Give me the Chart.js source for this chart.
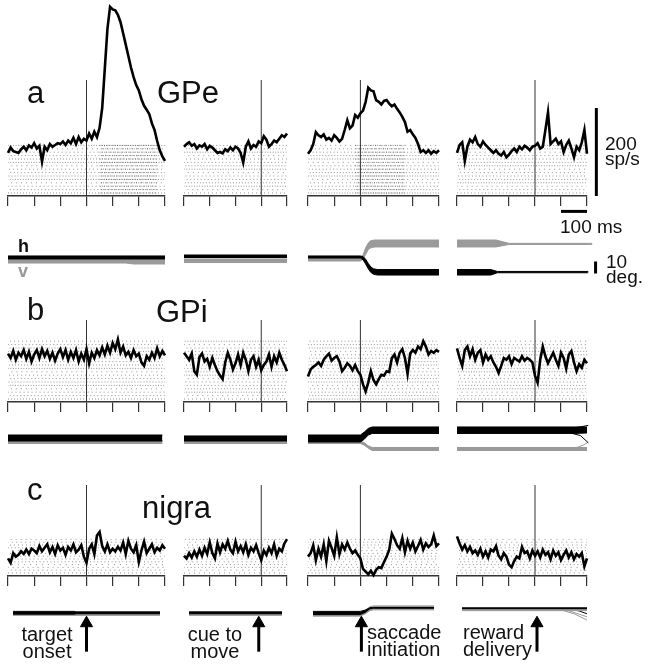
<!DOCTYPE html>
<html>
<head>
<meta charset="utf-8">
<script src="https://cdn.jsdelivr.net/npm/chart.js@4.4.0/dist/chart.umd.min.js"></script>
<style>
  body { margin: 0; background: #fff; }
  #fig { position: relative; width: 651px; height: 666px; overflow: hidden; font-family: "Liberation Sans", Arial, sans-serif; color: #111; }
  #fig canvas { position: absolute; }
  .lbl { position: absolute; white-space: nowrap; }
  .big { font-size: 31px; line-height: 30px; }
  .scale { font-size: 19px; line-height: 15px; }
  .evt { font-size: 20px; line-height: 17px; }
</style>
</head>
<body>
<div id="fig"></div>
<script>
// time window of each column (ms, relative to the event), ticks every 100 ms
const colWindows = [[-300, 300], [-300, 100], [-200, 300], [-300, 200]];
const events = ["target onset", "cue to move", "saccade initiation", "reward delivery"];
const areas = ["GPe", "GPi", "nigra"];

// firing rate (sp/s), 10 ms bins over each column window
const psthA1 = [98,110,102,100,98,106,112,104,115,110, 120,108,114,78,112,104,118,112,116,120,
  118,124,116,126,120,132,118,134,122,130, 126,142,130,146,134,155,200,290,380,430,
  424,422,412,395,370,344,318,292,270,252, 240,220,205,196,186,165,150,125,104,90, 80];
const psthA2 = [112,118,122,114,118,108,115,112,118,106, 114,110,104,98,100,97,106,102,110,104,
  112,108,98,76,112,124,108,116,112,124, 120,136,128,112,118,126,122,130,138,134, 142];
const psthA3 = [96,104,118,145,138,134,140,128,132,126, 138,132,124,130,150,172,154,160,184,178,
  188,194,214,246,240,238,218,214,208,216, 218,210,204,208,198,190,180,168,146,150,
  140,132,118,100,104,98,104,96,102,98, 104];
const psthA4 = [98,116,122,80,112,128,122,134,118,112, 124,116,110,104,98,104,96,92,100,88,
  94,102,108,100,112,106,114,110,104,112, 114,120,108,112,150,190,118,124,130,118,
  124,100,116,126,108,88,112,104,122,150, 96];

const psthB1 = [110,100,116,96,112,104,118,98,114,92, 108,118,100,120,104,116,98,112,94,110,
  120,102,118,96,114,100,118,92,110,96, 120,88,112,100,118,106,124,108,128,112,
  134,120,142,112,126,106,114,100,118,104, 110,90,82,104,96,112,100,122,104,116, 106];
const psthB2 = [112,104,96,110,70,62,102,110,92,98, 80,100,84,70,60,52,90,112,96,74,
  88,108,84,112,96,70,96,104,80,96, 72,84,92,108,80,104,90,112,96,84, 70];
const psthB3 = [58,74,80,84,90,82,96,104,110,94, 100,104,92,70,78,88,82,72,84,70,
  62,40,24,44,70,50,40,52,62,60, 70,68,100,108,90,112,120,100,64,110,
  118,112,126,120,138,126,108,116,112,118, 114];
const psthB4 = [122,100,82,118,126,104,120,96,112,118, 90,108,96,104,90,80,66,82,100,96,
  104,86,100,96,92,104,94,100,96,90, 60,44,96,126,104,88,100,112,96,82,
  112,100,76,108,116,90,70,86,78,96, 88];

const psthC1 = [40,30,52,44,48,56,50,60,50,62, 58,52,68,56,64,72,54,66,50,70,
  58,64,48,66,58,72,54,60,70,44, 30,62,72,50,92,100,68,56,72,54,
  62,56,66,58,76,50,80,62,54,70, 32,58,78,52,62,72,54,64,58,70, 62];
const psthC2 = [46,40,52,42,56,44,60,46,64,50, 76,52,40,74,54,72,62,80,60,52,
  78,56,68,54,72,48,64,56,70,52, 36,58,48,64,52,72,46,62,56,74, 84];
const psthC3 = [44,52,70,36,62,44,72,34,80,64, 46,88,50,72,60,76,62,52,58,48,
  40,16,10,4,12,2,14,20,18,32, 44,60,96,84,70,62,86,54,80,62,
  76,56,68,82,60,74,66,72,92,68, 74];
const psthC4 = [90,74,60,70,56,66,52,58,48,62, 44,56,42,60,56,68,46,38,52,44,
  26,20,34,44,40,66,52,56,40,58, 46,56,42,60,48,54,38,58,46,54,
  36,48,58,42,54,38,50,44,52,22, 40];

// raster: trials per row, and ms spans where spikes are dense
const rasterTrials = [15, 18, 13];
const rasterBurstA1 = [50, 270];
const rasterBurstA3 = [-20, 170];

// eye position bundles: [ms, lower deg, upper deg]; h black, v grey
const eyeA1h = [[-300, -0.8, 1.7], [300, -0.8, 1.7]];
const eyeA1v = [[-300, -4.2, -0.8], [150, -4.2, -0.8], [180, -5, -0.8], [300, -5, -0.8]];
const eyeA2h = [[-300, 0.4, 2.5], [100, 0.4, 2.5]];
const eyeA2v = [[-300, -3.8, -0.8], [100, -3.8, -0.8]];
const eyeA3h = [[-200, 0, 1.7], [0, 0, 1.7], [10, -1.5, 1.2], [20, -5, -1], [30, -9, -4.5], [40, -12, -7.5], [50, -13.6, -9], [65, -14.2, -9.6], [300, -14.2, -9.6]];
const eyeA3v = [[-200, -2.5, 0], [0, -2.5, 0], [10, -1, 2.5], [20, 3, 8.5], [30, 7, 12.5], [40, 8.5, 14.5], [55, 9.2, 15], [300, 9.2, 15]];
const eyeA4h = [[-300, -14.2, -9.6], [-170, -14.2, -9.6], [-145, -12.3, -11.2], [205, -12.3, -11.2]];
const eyeA4v = [[-300, 9.2, 15], [-150, 9.2, 15], [-100, 11.3, 12.2], [220, 11.3, 12.2]];

const eyeB1h = [[-300, -2.5, 2.5], [290, -2.5, 2.5]];
const eyeB1v = [[-300, -4.6, -2.5], [290, -4.6, -2.5]];
const eyeB2h = [[-300, -2.5, 1.7], [100, -2.5, 1.7]];
const eyeB2v = [[-300, -4.6, -2.5], [100, -4.6, -2.5]];
const eyeB3h = [[-200, -3.3, 2.5], [0, -3.3, 2.5], [15, -1, 5], [30, 2.5, 8], [45, 3.8, 9.2], [300, 3.8, 9.2]];
const eyeB3v = [[-200, -4.6, -2.5], [0, -4.6, -2.5], [15, -6, -4], [30, -8.5, -6.5], [45, -10.4, -7.9], [300, -10.4, -7.9]];
const eyeB4h = [[-300, 3.8, 9.2], [150, 3.8, 9.2], [200, 4.2, 9.2]];
const eyeB4v = [[-300, -10.4, -7.9], [200, -10.4, -7.9]];
const strayB4h = [[[140, 4], [175, 2], [205, -4]], [[150, 8.5], [180, 9.5], [205, 10.5]]];
const strayB4v = [[[160, -8], [185, -6], [205, -3.5]]];

const eyeC1h = [[-300, -1.2, 1.7], [-50, -1.2, 1.7], [-40, -0.8, 1.2], [300, -0.8, 1.2]];
const eyeC1v = [[-300, -2.5, -0.8], [300, -2.5, -0.8]];
const eyeC2h = [[-300, -0.8, 1.2], [100, -0.8, 1.2]];
const eyeC2v = [[-300, -2.5, -0.8], [100, -2.5, -0.8]];
const eyeC3h = [[-200, -1.7, 1.7], [-5, -1.7, 1.7], [15, 0.5, 3], [35, 4.4, 5.6], [50, 5, 5.8], [300, 5, 5.8]];
const eyeC3v = [[-200, -3.3, -0.8], [-5, -3.3, -0.8], [15, -1, 2.5], [35, 2.5, 6.5], [50, 3.3, 7.5], [300, 3.3, 7.5]];
const eyeC4h = [[-300, 4.6, 5.4], [200, 4.6, 5.4]];
const eyeC4v = [[-300, 2.5, 5.8], [200, 2.5, 5.8]];
const strayC4h = [[[130, 4.6], [170, 2], [200, -0.8]]];
const strayC4v = [[[100, 3], [150, -1], [200, -7.5]], [[120, 3], [200, -4]]];

// scale bars: 200 sp/s, 100 ms, 10 deg
const scaleRate = 200, scaleTime = 100, scaleEye = 10;

const psth = [[psthA1, psthA2, psthA3, psthA4], [psthB1, psthB2, psthB3, psthB4], [psthC1, psthC2, psthC3, psthC4]];
const eyeH = [[eyeA1h, eyeA2h, eyeA3h, eyeA4h], [eyeB1h, eyeB2h, eyeB3h, eyeB4h], [eyeC1h, eyeC2h, eyeC3h, eyeC4h]];
const eyeV = [[eyeA1v, eyeA2v, eyeA3v, eyeA4v], [eyeB1v, eyeB2v, eyeB3v, eyeB4v], [eyeC1v, eyeC2v, eyeC3v, eyeC4v]];

// layout (px)
const colLeft = [8, 184, 308, 457];
const colRight = [165, 287, 439, 587];
const psthRows = [{ top: 0, axis: 196, evTop: 80 }, { top: 300, axis: 402, evTop: 320 }, { top: 470, axis: 576, evTop: 485 }];
const eyeRows = [{ top: 230, zero: 258, bottom: 290 }, { top: 415, zero: 438, bottom: 462 }, { top: 590, zero: 609, bottom: 666 }];
const rasterGap = [3.4, 3.4, 2.8];
const dotPatterns = [[1, 2], [1, 3], [1, 1.6], [1, 2.5], [1, 4]];
const PX_PER_SPS = 0.44;
const PX_PER_DEG = 1.2;
const PAD = 3, TICK = 10, EXTRA_BOTTOM = 12;

const fig = document.getElementById("fig");

function binTimes(win) {
  const t = [];
  for (let x = win[0]; x <= win[1]; x += 10) t.push(x);
  return t;
}

function mount(left, top, width, height) {
  const c = document.createElement("canvas");
  c.width = width;
  c.height = height;
  c.style.left = left + "px";
  c.style.top = top + "px";
  c.style.width = width + "px";
  c.style.height = height + "px";
  fig.appendChild(c);
  return c;
}

function line(data, color, width, extra) {
  return Object.assign({
    data: data, borderColor: color, backgroundColor: color, borderWidth: width,
    pointRadius: 0, tension: 0, fill: false, clip: false, spanGaps: false
  }, extra || {});
}

function baseOptions(padRight, padBottom) {
  return {
    responsive: false, animation: false, events: [],
    layout: { padding: { left: PAD, right: PAD + padRight, top: 0, bottom: padBottom } },
    plugins: { legend: { display: false }, tooltip: { enabled: false } }
  };
}

function psthChart(r, c) {
  const row = psthRows[r];
  const win = colWindows[c];
  const extraRight = c === 3 ? 62 : 0;
  const areaH = row.axis - row.top;
  const width = colRight[c] - colLeft[c] + 2 * PAD + extraRight;
  const height = areaH + TICK + EXTRA_BOTTOM;
  const canvas = mount(colLeft[c] - PAD, row.top, width, height);

  const ds = [];
  ds.push(line(binTimes(win).map((t, i) => ({ x: t, y: psth[r][c][i] })), "#000", 2.6));
  ds.push(line([{ x: 0, y: 0 }, { x: 0, y: (row.axis - row.evTop) / PX_PER_SPS }], "#333", 1));

  // raster: one dotted line per trial
  const burst = r === 0 && c === 0 ? rasterBurstA1 : (r === 0 && c === 2 ? rasterBurstA3 : null);
  for (let k = 0; k < rasterTrials[r]; k++) {
    if (burst) {
      ds.push(line([{ x: burst[0], y: k }, { x: burst[1], y: k }], "rgba(0,0,0,0.45)", 1,
        { yAxisID: "yt", borderDash: [1, 1.2], borderDashOffset: k % 2 }));
    }
    const pat = dotPatterns[(k * 3 + c) % dotPatterns.length];
    const dim = r === 2 ? [1, pat[1] + 1] : pat;
    ds.push(line([{ x: win[0], y: k }, { x: win[1], y: k }], "rgba(0,0,0,0.42)", 1,
      { yAxisID: "yt", borderDash: dim, borderDashOffset: (k * 1.7) % 3 }));
  }

  if (r === 0 && c === 3) {
    ds.push(line([{ x: 236, y: 0 }, { x: 236, y: scaleRate }], "#000", 3));
    ds.push(line([{ x: 100, y: -35 }, { x: 100 + scaleTime, y: -35 }], "#000", 3));
  }

  const gap = rasterGap[r];
  const ytMin = -3 / gap;
  new Chart(canvas, {
    type: "line",
    data: { datasets: ds },
    options: Object.assign(baseOptions(extraRight, EXTRA_BOTTOM), {
      scales: {
        x: {
          type: "linear", min: win[0], max: win[1],
          ticks: { stepSize: 100, display: false },
          grid: { drawOnChartArea: false, drawTicks: true, tickLength: TICK, color: "#333", lineWidth: 1.2 },
          border: { display: true, color: "#333", width: 1.5 }
        },
        y: { display: false, min: 0, max: areaH / PX_PER_SPS },
        yt: { display: false, min: ytMin, max: ytMin + areaH / gap }
      }
    })
  });
}

function eyeChart(r, c) {
  const row = eyeRows[r];
  const win = colWindows[c];
  const extraRight = c === 3 ? 62 : 0;
  const width = colRight[c] - colLeft[c] + 2 * PAD + extraRight;
  const height = row.bottom - row.top;
  const canvas = mount(colLeft[c] - PAD, row.top, width, height);

  const band = (arr, color) => [
    line(arr.map(p => ({ x: p[0], y: p[2] })), color, 1, { fill: "+1" }),
    line(arr.map(p => ({ x: p[0], y: p[1] })), color, 1)
  ];
  const ds = [];
  ds.push(...band(eyeH[r][c], "#000"));
  ds.push(...band(eyeV[r][c], "#9a9a9a"));
  const strays = [];
  if (r === 1 && c === 3) { strayB4h.forEach(s => strays.push([s, "#000"])); strayB4v.forEach(s => strays.push([s, "#9a9a9a"])); }
  if (r === 2 && c === 3) { strayC4h.forEach(s => strays.push([s, "#000"])); strayC4v.forEach(s => strays.push([s, "#9a9a9a"])); }
  strays.forEach(([s, col]) => ds.push(line(s.map(p => ({ x: p[0], y: p[1] })), col, 1)));

  if (r === 0 && c === 3) {
    ds.push(line([{ x: 233, y: -3 }, { x: 233, y: -3 - scaleEye }], "#000", 3));
  }
  if (r === 2) {
    // event arrow under each column
    ds.unshift(line([{ x: 0, y: -40.8 }, { x: 0, y: -10.8 }], "#000", 3, {
      pointRadius: [0, 7], pointStyle: "triangle", pointBackgroundColor: "#000",
      pointBorderColor: "#000", pointBorderWidth: 1
    }));
  }

  new Chart(canvas, {
    type: "line",
    data: { datasets: ds },
    options: Object.assign(baseOptions(extraRight, 0), {
      scales: {
        x: { type: "linear", display: false, min: win[0], max: win[1] },
        y: { display: false, min: -(row.bottom - row.zero) / PX_PER_DEG, max: (row.zero - row.top) / PX_PER_DEG }
      }
    })
  });
}

for (let r = 0; r < 3; r++) {
  for (let c = 0; c < 4; c++) {
    psthChart(r, c);
    eyeChart(r, c);
  }
}

function label(html, cls, left, top, extra) {
  const d = document.createElement("div");
  d.className = "lbl " + cls;
  d.innerHTML = html;
  d.style.left = left + "px";
  d.style.top = top + "px";
  if (extra) Object.assign(d.style, extra);
  fig.appendChild(d);
}

label("a", "big", 27, 78);
label(areas[0], "big", 157, 78);
label("b", "big", 27, 295);
label(areas[1], "big", 156, 297);
label("c", "big", 27, 475);
label(areas[2], "big", 142, 493);

label("200<br>sp/s", "scale", 605, 136);
label("100 ms", "scale", 560, 219);
label("10<br>deg.", "scale", 606, 254);
label("h", "", 18, 237, { fontSize: "18px", lineHeight: "18px", fontWeight: "bold", color: "#111" });
label("v", "", 18, 262, { fontSize: "18px", lineHeight: "18px", fontWeight: "bold", color: "#999" });

const ev = events.map(e => e.split(" "));
label(ev[0][0] + "<br>" + ev[0][1], "evt", 17, 626, { width: "60px", textAlign: "center" });
label(ev[1][0] + " " + ev[1][1] + "<br>" + ev[1][2], "evt", 185, 626, { width: "60px", textAlign: "center" });
label(ev[2][0] + "<br>" + ev[2][1], "evt", 367, 624);
label(ev[3][0] + "<br>" + ev[3][1], "evt", 463, 624);
</script>
</body>
</html>
